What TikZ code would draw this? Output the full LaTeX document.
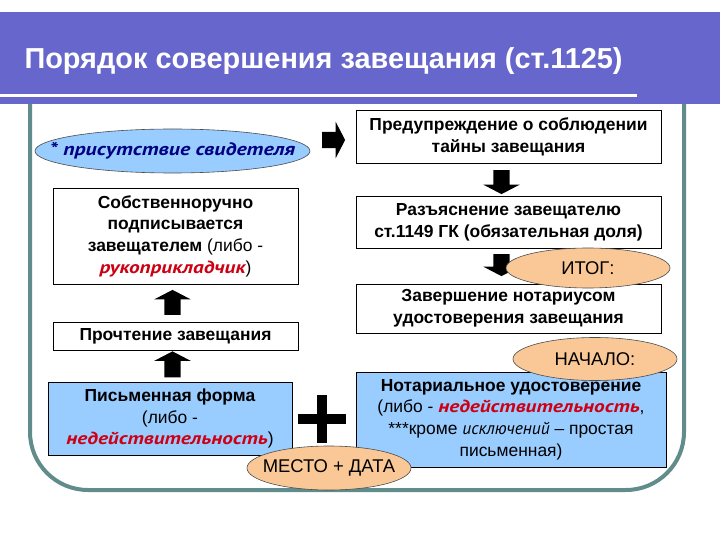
\documentclass[tikz,border=0pt]{standalone}
\usepackage{fontspec}
\setmainfont{Liberation Sans}
\newfontfamily\ptsans{PT Sans}
\newfontfamily\ptwide[FakeStretch=1.22]{PT Sans}
\usetikzlibrary{shapes.geometric,shapes.arrows,calc}

\definecolor{titlebar}{RGB}{102,102,204}
\definecolor{framegray}{RGB}{96,140,140}
\definecolor{lightblue}{RGB}{153,204,255}
\definecolor{peach}{RGB}{250,200,150}
\definecolor{darkred}{RGB}{205,0,20}
\definecolor{navytext}{RGB}{0,0,130}

\newcommand{\redword}[1]{{\ptwide\bfseries\itshape\color{darkred}#1}}

\begin{document}
\begin{tikzpicture}[x=1bp,y=-1bp,
    box/.style={draw=black, fill=white, line width=0.8bp, align=center,
        inner sep=0pt, font=\fontsize{17.5}{21.8}\selectfont\bfseries},
    bluebox/.style={box, fill=lightblue, font=\fontsize{17.5}{21.8}\selectfont},
    tag/.style={ellipse, draw=black!70, fill=peach, line width=0.6bp,
        inner xsep=-30bp, inner ysep=0pt, font=\fontsize{18.5}{20}\selectfont},
    blockarrow/.style={single arrow, fill=black, inner xsep=0pt, inner ysep=8bp,
        single arrow head extend=10bp, single arrow tip angle=125,
        minimum height=24bp}]

    % Page
    \useasboundingbox (0,0) rectangle (720,540);

    % Frame
    \draw[framegray, line width=4bp, rounded corners=58bp] (30,100) -- (30,490) -- (684,490) -- (684,100);

    % Title
    \fill[titlebar] (0,12) rectangle (720,104);
    \draw[white, line width=3bp] (0,96) -- (637,96);
    \node[anchor=base west, text=white, font=\fontsize{29}{34}\selectfont\bfseries] (title) at (21,69)
        {Порядок совершения завещания (ст.1125)};

    % Right column
    \node[box, minimum width=305bp, minimum height=53bp] (warn) at (508.5,136.5)
        {Предупреждение о соблюдении\\тайны завещания};
    \node[blockarrow, rotate=-90] (down1) at (501.5,180) {};
    \node[box, minimum width=305bp, minimum height=52bp] (explain) at (508.5,222)
        {Разъяснение завещателю\\ст.1149 ГК (обязательная доля)};
    \node[blockarrow, rotate=-90, minimum height=22bp] (down2) at (501.5,263) {};
    \node[box, minimum width=305bp, minimum height=49bp] (finish) at (508.5,308.5)
        {Завершение нотариусом\\удостоверения завещания};
    \node[tag, minimum width=164bp, minimum height=40bp] (itog) at (588,268) {ИТОГ:};
    \node[bluebox, minimum width=310bp, minimum height=95bp] (notar) at (511,419.5)
        {\textbf{Нотариальное удостоверение}\\(либо - \redword{недействительность},\\***кроме {\ptsans\itshape исключений} – простая\\письменная)};
    \node[tag, minimum width=164bp, minimum height=43bp] (start) at (595,359) {НАЧАЛО:};

    % Left column
    \node[ellipse, draw=black!70, fill=lightblue, line width=0.6bp,
        inner xsep=-30bp, inner ysep=0pt, minimum width=275bp, minimum height=44bp,
        font=\fontsize{18}{20}\selectfont\ptwide\bfseries\itshape, text=navytext] (witness) at (172.5,151)
        {* присутствие свидетеля};
    \node[blockarrow, minimum height=23bp] (right1) at (331.5,140) {};
    \node[box, minimum width=245bp, minimum height=96bp] (sign) at (175.5,236)
        {\rule{0pt}{5bp}Собственноручно\\подписывается\\завещателем {\mdseries (либо -}\\\redword{рукоприкладчик}{\mdseries )}};
    \node[blockarrow, rotate=90, minimum height=25bp] (up1) at (172.5,304.5) {};
    \node[box, minimum width=245bp, minimum height=28bp] (read) at (175.5,336)
        {Прочтение завещания};
    \node[blockarrow, rotate=90, minimum height=26bp] (up2) at (172.5,366.5) {};
    \node[bluebox, minimum width=244bp, minimum height=73bp] (written) at (170,418.5)
        {\textbf{Письменная форма}\\(либо -\\\redword{недействительность})};

    % Plus
    \coordinate (plus) at (322,419);
    \draw[line width=10bp] ($(plus)+(-24,0)$) -- ($(plus)+(24,0)$);
    \draw[line width=10bp] ($(plus)+(0,-24)$) -- ($(plus)+(0,24)$);
    \node[tag, minimum width=164bp, minimum height=44bp] (place) at (329,468) {МЕСТО + ДАТА};
\end{tikzpicture}
\end{document}
